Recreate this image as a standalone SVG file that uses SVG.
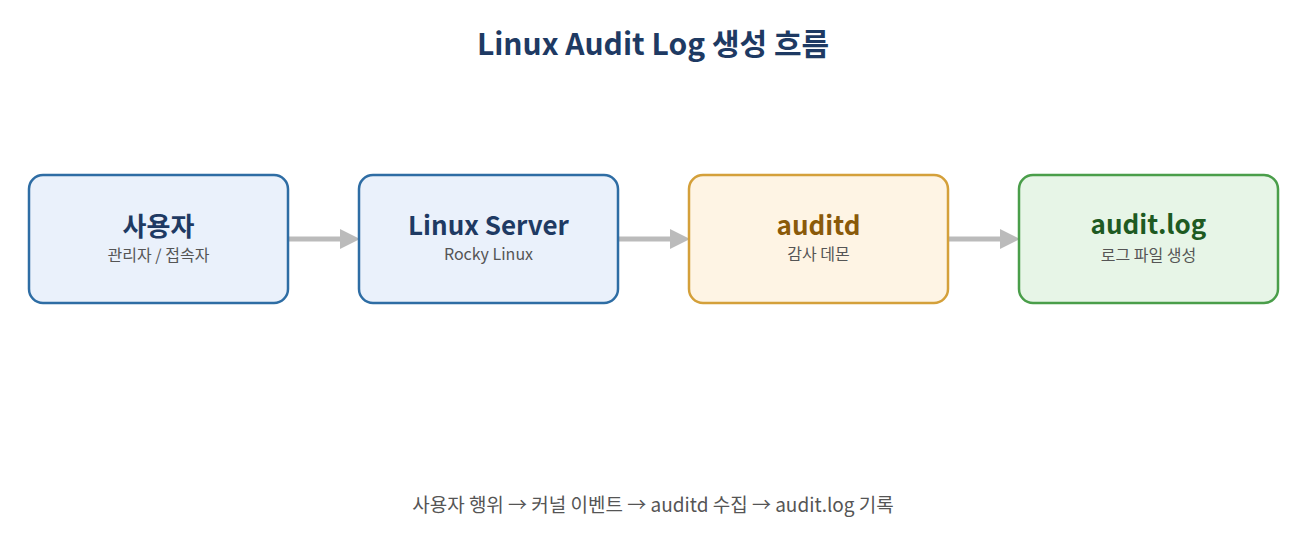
<svg xmlns="http://www.w3.org/2000/svg" width="1307" height="545" viewBox="0 0 1307 545">
<style>
text{font-family:"Noto Sans CJK KR","Noto Sans",sans-serif;text-anchor:middle}
.title{font-size:30px;font-weight:700;fill:#1e3a63}
.nt{font-size:26px;font-weight:700}
.ns{font-size:16px;fill:#555}
.foot{font-size:19px;fill:#555}
.box{stroke-width:2.5}
.conn{stroke:#bbbbbb;stroke-width:5;fill:none}
</style>
<defs>
<marker id="ah" markerWidth="4" markerHeight="4" refX="0" refY="2" orient="auto" markerUnits="strokeWidth">
<path d="M0,0 L4,2 L0,4 Z" fill="#bbbbbb"/>
</marker>
</defs>
<rect width="1307" height="545" fill="#ffffff"/>
<text class="title" x="653" y="55">Linux Audit Log 생성 흐름</text>
<g id="connectors">
<line class="conn" x1="289" y1="239" x2="340" y2="239" marker-end="url(#ah)"/>
<line class="conn" x1="619" y1="239" x2="670" y2="239" marker-end="url(#ah)"/>
<line class="conn" x1="949" y1="239" x2="1000" y2="239" marker-end="url(#ah)"/>
</g>
<g id="user">
<rect class="box" x="29" y="175" width="259" height="128" rx="14" fill="#eaf1fb" stroke="#2e6da4"/>
<text class="nt" x="158.5" y="236" fill="#1e3a63">사용자</text>
<text class="ns" x="158.5" y="261">관리자 / 접속자</text>
</g>
<g id="server">
<rect class="box" x="359" y="175" width="259" height="128" rx="14" fill="#eaf1fb" stroke="#2e6da4"/>
<text class="nt" x="488.5" y="235" fill="#1e3a63">Linux Server</text>
<text class="ns" x="488.5" y="260">Rocky Linux</text>
</g>
<g id="auditd">
<rect class="box" x="689" y="175" width="259" height="128" rx="14" fill="#fef4e4" stroke="#d4a03a"/>
<text class="nt" x="818.5" y="235" fill="#8a5a0a">auditd</text>
<text class="ns" x="818.5" y="260">감사 데몬</text>
</g>
<g id="auditlog">
<rect class="box" x="1019" y="175" width="259" height="128" rx="14" fill="#e7f5e7" stroke="#4a9e4a"/>
<text class="nt" x="1148.5" y="234" fill="#1e5a22">audit.log</text>
<text class="ns" x="1148.5" y="261">로그 파일 생성</text>
</g>
<text class="foot" x="653" y="512">사용자 행위 → 커널 이벤트 → auditd 수집 → audit.log 기록</text>
</svg>
